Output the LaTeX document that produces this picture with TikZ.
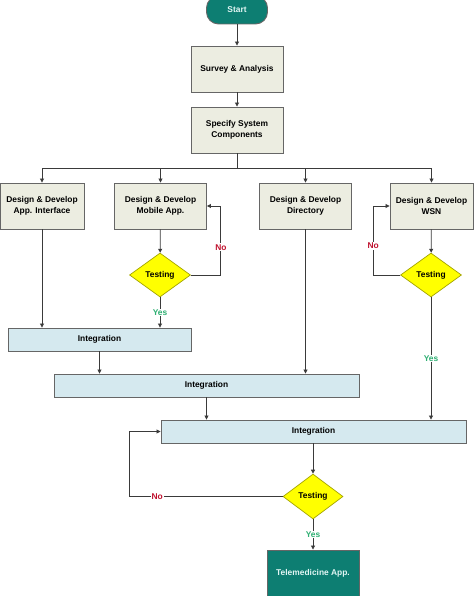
\documentclass[tikz,border=0pt]{standalone}
\usepackage{fontspec}
\setmainfont{Liberation Sans}
\usetikzlibrary{arrows.meta,positioning,shapes.geometric}
\definecolor{ink}{HTML}{3A3A3A}
\definecolor{edge}{HTML}{666666}
\definecolor{taskfill}{HTML}{ECEDE1}
\definecolor{integfill}{HTML}{D5E9EF}
\definecolor{testfill}{HTML}{FFFF00}
\definecolor{testedge}{HTML}{A3A300}
\definecolor{termfill}{HTML}{0D7E72}
\definecolor{termtext}{HTML}{E2F6F4}
\definecolor{nored}{HTML}{C0122E}
\definecolor{yesgreen}{HTML}{2EAF72}
\tikzset{
  lbl/.style={font=\fontsize{8.4}{10.5}\selectfont\bfseries},
  task/.style={lbl, draw=edge, fill=taskfill, line width=0.9pt, align=center, minimum width=92pt, minimum height=46pt, inner sep=0pt},
  integ/.style={lbl, draw=edge, fill=integfill, line width=0.9pt, minimum height=23pt, inner sep=0pt},
  test/.style={lbl, diamond, draw=testedge, fill=testfill, line width=0.7pt, minimum width=61pt, minimum height=44pt, inner sep=0pt},
  term/.style={lbl, draw=edge, fill=termfill, text=termtext, line width=0.9pt, align=center, inner sep=0pt},
  arrow/.style={-{Triangle[length=4pt,width=4pt]}, line width=0.8pt, draw=ink},
  line/.style={line width=0.8pt, draw=ink},
  nolabel/.style={lbl, text=nored, fill=white, inner sep=1pt},
  yeslabel/.style={lbl, text=yesgreen, fill=white, inner sep=1pt}
}
\begin{document}
\begin{tikzpicture}[x=1pt, y=-1pt]
  \useasboundingbox (0,0) rectangle (474,596);

  \node[term, rounded corners=12pt, minimum width=61pt, minimum height=28pt] (start) at (237,10) {Start};
  \node[task] (survey) at (237,69) {Survey \& Analysis};
  \node[task] (specify) at (237,130) {Specify System\\Components};
  \coordinate (fork) at (237,168);

  \node[task, minimum width=84pt] (ddapp) at (42,206) {Design \& Develop\\App. Interface};
  \node[task] (ddmob) at (160.5,206) {Design \& Develop\\Mobile App.};
  \node[task] (dddir) at (305.5,206) {Design \& Develop\\Directory};
  \node[task, minimum width=83pt] (ddwsn) at (431.5,206) {Design \& Develop\\WSN};

  \node[test] (test1) at (160,275) {Testing};
  \node[test] (test2) at (431,275) {Testing};

  \node[integ, minimum width=183pt] (int1) at (99.5,339.5) {Integration};
  \node[integ, minimum width=305pt] (int2) at (206.5,385.5) {Integration};
  \node[integ, minimum width=305pt] (int3) at (313.5,431.5) {Integration};

  \node[test, minimum width=60pt, minimum height=45pt] (test3) at (313,496.5) {Testing};
  \node[term, minimum width=92pt, minimum height=46pt] (tele) at (313,573) {Telemedicine App.};

  \draw[arrow] (start) -- (survey);
  \draw[arrow] (survey) -- (specify);
  \draw[line] (specify) -- (fork);
  \draw[arrow] (fork) -| (ddapp);
  \draw[arrow] (fork) -| (ddmob);
  \draw[arrow] (fork) -| (dddir);
  \draw[arrow] (fork) -| (ddwsn);

  \draw[arrow] (ddmob) -- (test1);
  \draw[arrow] (ddwsn) -- (test2);
  \draw[arrow] (test1.east) -- ++(30,0) |- node[nolabel, pos=0.2] {No} (ddmob.east);
  \draw[arrow] (test2.west) -- ++(-27,0) |- node[nolabel, pos=0.21] {No} (ddwsn.west);

  \draw[arrow] (ddapp) -- (ddapp |- int1.north);
  \draw[arrow] (test1) -- node[yeslabel] {Yes} (test1 |- int1.north);
  \draw[arrow] (int1) -- (int1 |- int2.north);
  \draw[arrow] (dddir) -- (dddir |- int2.north);
  \draw[arrow] (int2) -- (int2 |- int3.north);
  \draw[arrow] (test2) -- node[yeslabel] {Yes} (test2 |- int3.north);

  \draw[arrow] (int3.south -| test3.north) -- (test3);
  \draw[arrow] (test3.west) -- node[nolabel, pos=0.82] {No} ++(-153,0) |- (int3.west);
  \draw[arrow] (test3) -- node[yeslabel] {Yes} (tele);
\end{tikzpicture}
\end{document}
